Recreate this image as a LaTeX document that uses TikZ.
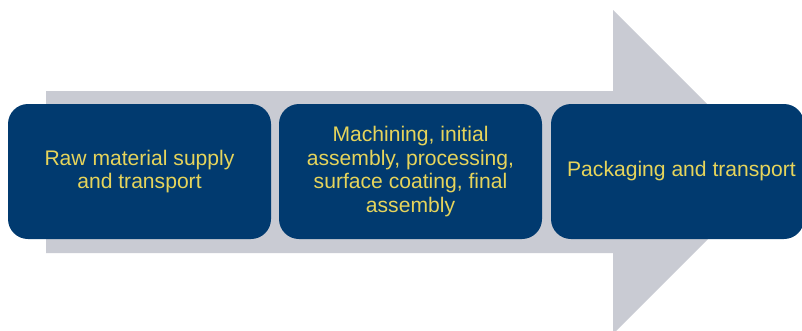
\documentclass[tikz,border=0pt]{standalone}
\usepackage{fontspec}
\setmainfont{Liberation Sans}
\definecolor{navy}{HTML}{013A6F}
\definecolor{arrowgrey}{HTML}{C9CBD3}
\definecolor{goldtext}{HTML}{E6D45B}
\begin{document}
\begin{tikzpicture}[x=1pt,y=-1pt,
  stagebox/.style={fill=navy, draw=none, rounded corners=20pt, minimum height=135pt,
    inner sep=0pt, text=goldtext, align=center,
    font=\fontsize{21.1}{23.5}\selectfont}]
\useasboundingbox (0,0) rectangle (802,330);
\begin{scope}
\clip (0,0) rectangle (802,330);
\fill[arrowgrey] (46,91) -- (613,91) -- (613,10) -- (775,172) -- (613,334) -- (613,253) -- (46,253) -- cycle;
\node[stagebox, minimum width=263pt] (s1) at (139.5,171.5) {Raw material supply\\and transport};
\node[stagebox, minimum width=263pt] (s2) at (410.5,171.5) {Machining, initial\\assembly, processing,\\surface coating, final\\assembly};
\node[stagebox, minimum width=253pt] (s3) at (677.5,171.5) {\hspace*{8pt}Packaging and transport};
\end{scope}
\end{tikzpicture}
\end{document}
